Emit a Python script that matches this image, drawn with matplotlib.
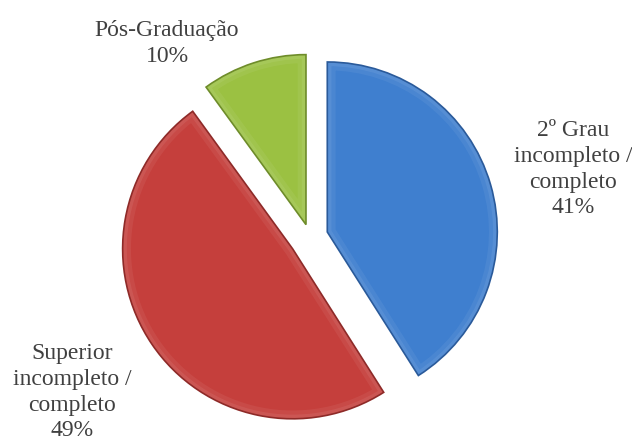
import matplotlib.pyplot as plt
from matplotlib.patches import Wedge

# Escolaridade dos participantes
categorias = ['2º Grau\nincompleto /\ncompleto', 'Superior\nincompleto /\ncompleto', 'Pós-Graduação']
percentuais = [41, 49, 10]
cores = ['#3f7fcf', '#c53f3c', '#9bc142']
bordas = ['#2a5a9a', '#8e2a28', '#6e8c2a']
explode = [18, 21, 13]  # em pixels, o raio e 170

fig = plt.figure(figsize=(6.32, 4.43), dpi=100)
ax = fig.add_axes([0, 0, 1, 1])

# centro e raio em pixels (eixo em pixels)
wedges, _ = ax.pie(percentuais, colors=cores, explode=explode, startangle=90,
                   counterclock=False, radius=170, center=(310, 443 - 237),
                   wedgeprops=dict(linewidth=0))

# efeito de bisel: brilho leve por dentro da borda + contorno escuro
for w, b in zip(wedges, bordas):
    for lw, a in [(12, 0.06), (6, 0.07)]:
        hl = Wedge(w.center, w.r, w.theta1, w.theta2, facecolor='none',
                   edgecolor='white', linewidth=lw, alpha=a)
        ax.add_patch(hl)
        hl.set_clip_path(w)
    w.set_zorder(0)
    contorno = Wedge(w.center, w.r, w.theta1, w.theta2, facecolor='none',
                     edgecolor=b, linewidth=1.2)
    ax.add_patch(contorno)

ax.set_xlim(0, 632)
ax.set_ylim(0, 443)
ax.set_aspect('equal')
ax.axis('off')

# Rótulos
fonte = dict(family='Liberation Serif', size=17, color='#404040', ha='center',
             va='top', linespacing=1.3)
pos = [(573, 443 - 120), (72, 443 - 343), (167, 443 - 20)]
for cat, p, (x, y) in zip(categorias, percentuais, pos):
    ax.text(x, y, f'{cat}\n{p}%', **fonte)

plt.savefig('out.png', dpi=100)
